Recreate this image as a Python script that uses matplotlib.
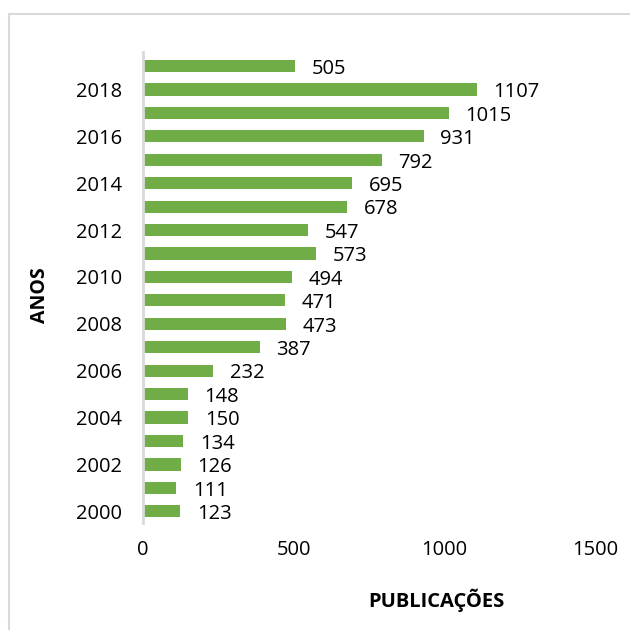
import matplotlib.pyplot as plt
from matplotlib.patches import Rectangle

plt.rcParams['font.family'] = ['Open Sans', 'DejaVu Sans']

# Dados
anos = list(range(2000, 2020))
publicacoes = [123, 111, 126, 134, 150, 148, 232, 387, 473, 471,
               494, 573, 547, 678, 695, 792, 931, 1015, 1107, 505]
anos_rotulos = [a for a in anos if a % 2 == 0]

fig = plt.figure(figsize=(6.3, 6.3), dpi=100)
ax = fig.add_axes([143/630, 1 - 523/630, (595 - 143)/630, (523 - 52)/630])

ax.barh(anos, publicacoes, height=0.52, color='#70AD47', zorder=2)

for a, v in zip(anos, publicacoes):
    ax.annotate(str(v), (v, a), xytext=(12, -2), textcoords='offset points',
                ha='left', va='center', fontsize=14.5, color='#000000')

ax.set_xlim(0, 1500)
ax.set_ylim(1999.5, 2019.6)
ax.set_xticks([0, 500, 1000, 1500])
ax.set_yticks(anos_rotulos)
ax.tick_params(axis='both', length=0, labelsize=14.5, colors='#000000')
ax.tick_params(axis='x', pad=12)
ax.tick_params(axis='y', pad=15)

for s in ['top', 'right', 'bottom']:
    ax.spines[s].set_visible(False)
ax.spines['left'].set_color('#D9D9D9')
ax.spines['left'].set_linewidth(2)

fig.text(436/630, 1 - 600/630, 'PUBLICAÇÕES', ha='center', va='center',
         fontsize=14.5, fontweight='bold')
fig.text(40/630, 1 - 295/630, 'ANOS', ha='center', va='center',
         fontsize=14, fontweight='bold', rotation=90)

# Moldura
fig.patches.append(Rectangle((9/630, -0.1), 1.2, 1 - 14/630 + 0.1,
                             transform=fig.transFigure, fill=False,
                             edgecolor='#D9D9D9', linewidth=1.5))

fig.savefig('out.png', dpi=100)
